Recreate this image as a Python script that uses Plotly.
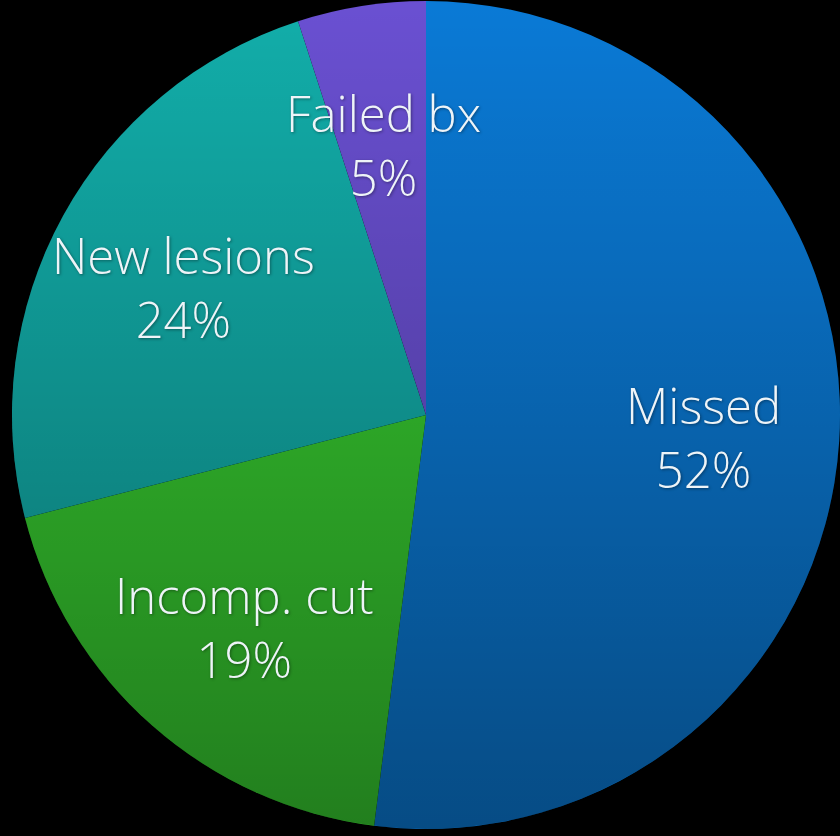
import base64
import plotly.graph_objects as go

labels = ["Missed", "Incomp. cut", "New lesions", "Failed bx"]
values = [52, 19, 24, 5]
colors = ["#0a7ad6", "#37cc30", "#12aeaa", "#6a50d2"]

# centre of each two-line label, in pixels of the 840x836 page
label_px = [(703, 437), (245, 627), (183, 287), (383, 145)]

W, H = 840, 836
M = dict(l=12, r=0, t=0, b=6)
PW = W - M["l"] - M["r"]
PH = H - M["t"] - M["b"]

fig = go.Figure()

fig.add_trace(go.Pie(
    labels=labels, values=values,
    marker=dict(colors=colors, line=dict(width=0)),
    sort=False, direction="clockwise", rotation=0,
    textinfo="none", hoverinfo="label+percent",
    showlegend=False,
))

# top-to-bottom shading laid over the disc (same geometry as the pie)
svg = (
    '<svg xmlns="http://www.w3.org/2000/svg" viewBox="0 0 100 100">'
    '<defs><linearGradient id="g" x1="0" y1="0" x2="0" y2="1">'
    '<stop offset="0" stop-color="#000" stop-opacity="0"/>'
    '<stop offset="1" stop-color="#000" stop-opacity="0.38"/>'
    '</linearGradient></defs>'
    '<circle cx="50" cy="50" r="50" fill="url(#g)"/></svg>'
)
d = min(PW, PH)
fig.add_layout_image(
    source="data:image/svg+xml;base64," + base64.b64encode(svg.encode()).decode(),
    xref="paper", yref="paper",
    x=0.5 - d / PW / 2, y=0.5 + d / PH / 2,
    sizex=d / PW, sizey=d / PH,
    xanchor="left", yanchor="top", sizing="stretch", layer="above",
)

for lab, val, (px, py) in zip(labels, values, label_px):
    fig.add_annotation(
        x=(px - M["l"]) / PW, y=1 - (py - M["t"]) / PH,
        xref="paper", yref="paper", showarrow=False,
        xanchor="center", yanchor="middle",
        text=f"{lab}<br>{val}%",
        font=dict(family="Open Sans, Roboto, sans-serif", size=49, color="#eef4f8",
                  weight=300, shadow="1px 1px 3px rgba(0,0,0,0.4)"),
    )

fig.update_layout(
    width=W, height=H, margin=M,
    paper_bgcolor="#000000", plot_bgcolor="rgba(0,0,0,0)",
)

fig.write_html("out.html", config={"displayModeBar": False},
               post_script="document.body.style.margin='0';"
                           "document.body.style.background='#000';")
